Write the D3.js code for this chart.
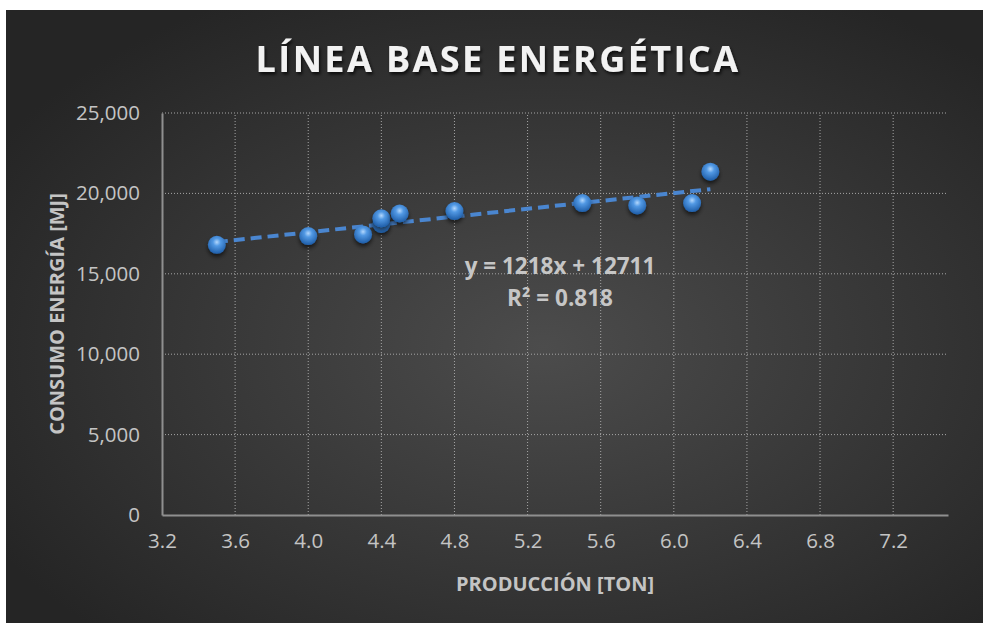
<!DOCTYPE html>
<html>
<head>
<meta charset="utf-8">
<script src="https://cdn.jsdelivr.net/npm/d3@7"></script>
<style>
  body { margin: 0; background: #fff; }
  text { font-family: "Open Sans", sans-serif; }
</style>
</head>
<body>
<div id="chart"></div>
<script>
const production = [3.5, 4.0, 4.3, 4.4, 4.4, 4.5, 4.8, 5.5, 5.8, 6.1, 6.2];
const energy = [16800, 17350, 17450, 18100, 18450, 18750, 18900, 19400, 19250, 19400, 21350];
const xTicks = [3.2, 3.6, 4.0, 4.4, 4.8, 5.2, 5.6, 6.0, 6.4, 6.8, 7.2];
const yTicks = [0, 5000, 10000, 15000, 20000, 25000];
const slope = 1218, intercept = 12711, r2 = 0.818;

const width = 983, height = 623;
const margin = { top: 113, right: 35, bottom: 108, left: 162 };

const svg = d3.select("#chart").append("svg")
  .attr("width", width)
  .attr("height", height);

const defs = svg.append("defs");
const bg = defs.append("radialGradient").attr("id", "bg")
  .attr("cx", "55%").attr("cy", "55%").attr("r", "65%");
bg.append("stop").attr("offset", "0%").attr("stop-color", "#4c4c4c");
bg.append("stop").attr("offset", "100%").attr("stop-color", "#252525");

const ball = defs.append("radialGradient").attr("id", "ball")
  .attr("cx", "50%").attr("cy", "35%").attr("r", "60%");
ball.append("stop").attr("offset", "0%").attr("stop-color", "#b3d7fc");
ball.append("stop").attr("offset", "35%").attr("stop-color", "#5299e4");
ball.append("stop").attr("offset", "100%").attr("stop-color", "#2363ae");

const shadow = defs.append("filter").attr("id", "shadow")
  .attr("x", "-30%").attr("y", "-30%").attr("width", "160%").attr("height", "160%");
shadow.append("feDropShadow").attr("dx", 1.5).attr("dy", 2.5)
  .attr("stdDeviation", 1.8).attr("flood-color", "#000").attr("flood-opacity", 0.7);

const ballShadow = defs.append("filter").attr("id", "ballShadow")
  .attr("x", "-50%").attr("y", "-50%").attr("width", "200%").attr("height", "200%");
ballShadow.append("feDropShadow").attr("dx", 0).attr("dy", 3)
  .attr("stdDeviation", 2).attr("flood-color", "#000").attr("flood-opacity", 0.6);

svg.append("rect")
  .attr("x", 6).attr("y", 10)
  .attr("width", width - 6).attr("height", height - 10)
  .attr("fill", "url(#bg)");

const x = d3.scaleLinear()
  .domain([3.2, 7.5])
  .range([margin.left, width - margin.right]);

const y = d3.scaleLinear()
  .domain([0, 25000])
  .range([height - margin.bottom, margin.top]);

// gridlines
svg.append("g")
  .selectAll("line")
  .data(yTicks.slice(1))
  .enter()
  .append("line")
  .attr("x1", x.range()[0]).attr("x2", x.range()[1])
  .attr("y1", d => y(d)).attr("y2", d => y(d))
  .attr("stroke", "#a6a6a6")
  .attr("stroke-width", 1)
  .attr("stroke-dasharray", "1,2");

svg.append("g")
  .selectAll("line")
  .data(xTicks.slice(1))
  .enter()
  .append("line")
  .attr("x1", d => x(d)).attr("x2", d => x(d))
  .attr("y1", y.range()[0]).attr("y2", y.range()[1])
  .attr("stroke", "#a6a6a6")
  .attr("stroke-width", 1)
  .attr("stroke-dasharray", "1,2");

// axes
const xAxis = svg.append("g")
  .attr("transform", `translate(0, ${y(0)})`)
  .call(d3.axisBottom(x).tickValues(xTicks).tickFormat(d3.format(".1f")).tickSize(0).tickPadding(18));
xAxis.select(".domain").attr("stroke", "#8f8f8f").attr("stroke-width", 2);
xAxis.selectAll("text")
  .attr("fill", "#c4c4c4")
  .style("font-size", "20.5px")
  .style("font-family", "Open Sans");

const yAxis = svg.append("g")
  .attr("transform", `translate(${x(3.2)}, 0)`)
  .call(d3.axisLeft(y).tickValues(yTicks).tickFormat(d3.format(",")).tickSize(0).tickPadding(22));
yAxis.select(".domain").attr("stroke", "#8f8f8f").attr("stroke-width", 2);
yAxis.selectAll("text")
  .attr("fill", "#c4c4c4")
  .style("font-size", "20.5px")
  .style("font-family", "Open Sans");

// trend line
svg.append("line")
  .attr("x1", x(d3.min(production)))
  .attr("y1", y(slope * d3.min(production) + intercept))
  .attr("x2", x(d3.max(production)))
  .attr("y2", y(slope * d3.max(production) + intercept))
  .attr("stroke", "#4a86d0")
  .attr("stroke-width", 4)
  .attr("stroke-dasharray", "11,6");

// points
svg.selectAll("circle.pt")
  .data(production)
  .enter()
  .append("circle")
  .attr("class", "pt")
  .attr("cx", d => x(d))
  .attr("cy", (d, i) => y(energy[i]))
  .attr("r", 9)
  .attr("fill", "url(#ball)")
  .attr("filter", "url(#ballShadow)");

// equation
const eq = svg.append("g").attr("fill", "#c6c6c6")
  .style("font-weight", "bold").style("font-size", "22.5px");
eq.append("text")
  .attr("x", 560).attr("y", 274)
  .attr("text-anchor", "middle")
  .text(`y = ${slope}x + ${intercept}`);
eq.append("text")
  .attr("x", 560).attr("y", 306)
  .attr("text-anchor", "middle")
  .text(`R² = ${r2}`);

// title
svg.append("text")
  .attr("x", 498).attr("y", 72)
  .attr("text-anchor", "middle")
  .attr("fill", "#f2f2f2")
  .attr("filter", "url(#shadow)")
  .style("font-size", "36px")
  .style("font-weight", "bold")
  .style("letter-spacing", "2.4px")
  .text("LÍNEA BASE ENERGÉTICA");

// axis titles
svg.append("text")
  .attr("x", 555).attr("y", 591)
  .attr("text-anchor", "middle")
  .attr("fill", "#c4c4c4")
  .style("font-size", "20px")
  .style("font-weight", "bold")
  .text("PRODUCCIÓN [TON]");

svg.append("text")
  .attr("transform", "translate(64, 314) rotate(-90)")
  .attr("text-anchor", "middle")
  .attr("fill", "#c4c4c4")
  .style("font-size", "20px")
  .style("font-weight", "bold")
  .text("CONSUMO ENERGÍA [MJ]");
</script>
</body>
</html>
